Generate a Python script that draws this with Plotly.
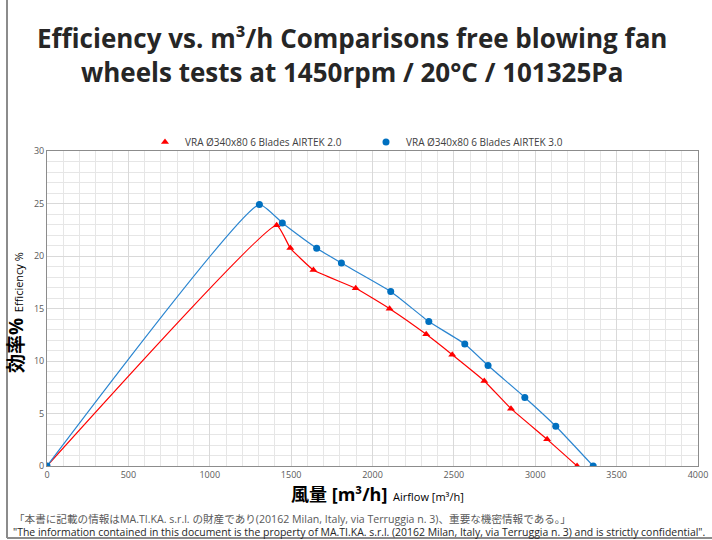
import plotly.graph_objects as go

# ---- data ----
red_name = "VRA Ø340x80 6 Blades AIRTEK 2.0"
red_x = [0, 1411, 1495, 1637, 1897, 2105, 2330, 2490, 2687, 2851, 3073, 3257]
red_y = [0, 22.92, 20.76, 18.67, 16.92, 14.98, 12.54, 10.6, 8.1, 5.46, 2.54, 0]

blue_name = "VRA Ø340x80 6 Blades AIRTEK 3.0"
blue_x = [0, 1305, 1446, 1657, 1809, 2112, 2346, 2567, 2710, 2936, 3126, 3356]
blue_y = [0, 24.9, 23.15, 20.75, 19.33, 16.62, 13.76, 11.62, 9.57, 6.53, 3.79, 0]

x_ticks = [0, 500, 1000, 1500, 2000, 2500, 3000, 3500, 4000]
y_ticks = [0, 5, 10, 15, 20, 25, 30]

title_1 = "Efficiency vs. m³/h Comparisons free blowing fan"
title_2 = "wheels tests at 1450rpm / 20°C / 101325Pa"
note_1 = "「本書に記載の情報はMA.TI.KA. s.r.l. の財産であり(20162 Milan, Italy, via Terruggia n. 3)、重要な機密情報である。」"
note_2 = "\"The information contained in this document is the property of MA.TI.KA. s.r.l. (20162 Milan, Italy, via Terruggia n. 3) and is strictly confidential\"."

FONT = "Open Sans, Noto Sans CJK JP, sans-serif"
RED = "#FF0000"
BLUE = "#0070C0"

fig = go.Figure()
fig.add_trace(go.Scatter(
    x=red_x, y=red_y, name=red_name, mode="lines+markers", showlegend=False,
    line=dict(color=RED, width=1.2, shape="spline", smoothing=0.4),
    marker=dict(symbol="triangle-up", size=7, color=RED),
))
fig.add_trace(go.Scatter(
    x=blue_x, y=blue_y, name=blue_name, mode="lines+markers", showlegend=False,
    line=dict(color="#2a85d0", width=1.2, shape="spline", smoothing=0.45),
    marker=dict(symbol="circle", size=7, color=BLUE),
))
# legend entries (marker only, as in the original legend)
fig.add_trace(go.Scatter(x=[None], y=[None], name=red_name, mode="markers",
                         marker=dict(symbol="triangle-up", size=7, color=RED)))
fig.add_trace(go.Scatter(x=[None], y=[None], name=blue_name, mode="markers",
                         marker=dict(symbol="circle", size=7, color=BLUE)))

# layout geometry (pixels)
W, H = 712, 540
L, R, T, B = 47, 14, 151, 74
pw, ph = W - L - R, H - T - B

def px(x):
    return (x - L) / pw

def py(y):
    return (H - B - y) / ph

axis_common = dict(
    showgrid=True, gridcolor="#d9d9d9", gridwidth=1,
    showline=True, linecolor="#8c8c8c", linewidth=1, mirror=True,
    zeroline=False, ticks="", automargin=False,
    tickfont=dict(family=FONT, size=9, color="#595959"),
)

fig.update_layout(
    width=W, height=H,
    margin=dict(l=L, r=R, t=T, b=B, autoexpand=False),
    paper_bgcolor="white", plot_bgcolor="white",
    font=dict(family=FONT, color="#404040"),
    showlegend=True,
    legend=dict(
        orientation="h", x=px(145), xanchor="left", y=py(142), yanchor="middle",
        font=dict(family=FONT, size=10, color="#404040"),
        itemwidth=30, tracegroupgap=0, entrywidth=176,
        bgcolor="rgba(0,0,0,0)",
    ),
    xaxis=dict(range=[0, 4000], tickvals=x_ticks,
               minor=dict(dtick=100, showgrid=True, gridcolor="#e6e6e6", gridwidth=1),
               **axis_common),
    yaxis=dict(range=[0, 30], tickvals=y_ticks,
               minor=dict(dtick=1, showgrid=True, gridcolor="#e6e6e6", gridwidth=1),
               **axis_common),
)

annotations = [
    dict(text="<b>" + title_1 + "</b>", x=px(352), y=py(38), xanchor="center", yanchor="middle",
         font=dict(family=FONT, size=26, color="#262626")),
    dict(text="<b>" + title_2 + "</b>", x=px(352), y=py(72), xanchor="center", yanchor="middle",
         font=dict(family=FONT, size=26, color="#262626")),
    dict(text="<b><span style='font-size:18px'>風量 [m³/h]</span></b>  <span style='font-size:11px'>Airflow [m³/h]</span>",
         x=px(378), y=py(494), xanchor="center", yanchor="middle",
         font=dict(family=FONT, size=11, color="#000000")),
    dict(text="<b><span style='font-size:19px'>効率%</span></b>  <span style='font-size:11px'>Efficiency %</span>",
         x=px(16), y=py(313), xanchor="center", yanchor="middle", textangle=-90,
         font=dict(family=FONT, size=11, color="#000000")),
    dict(text=note_1, x=px(12), y=py(519), xanchor="left", yanchor="middle",
         font=dict(family=FONT, size=10.6, color="#595959")),
    dict(text=note_2, x=px(11), y=py(532), xanchor="left", yanchor="middle",
         font=dict(family=FONT, size=10.45, color="#262626")),
]
for a in annotations:
    a.update(xref="paper", yref="paper", showarrow=False)
fig.update_layout(annotations=annotations)

# outer frame (left and bottom border of the original picture)
fig.add_shape(type="line", xref="paper", yref="paper",
              x0=px(7), x1=px(7), y0=py(0), y1=py(538), line=dict(color="#8c8c8c", width=2))
fig.add_shape(type="line", xref="paper", yref="paper",
              x0=px(7), x1=px(712), y0=py(538), y1=py(538), line=dict(color="#8c8c8c", width=2))

fig.write_html("out.html",
               config={"displayModeBar": False},
               post_script="document.body.style.margin='0';document.body.style.overflow='hidden';")
